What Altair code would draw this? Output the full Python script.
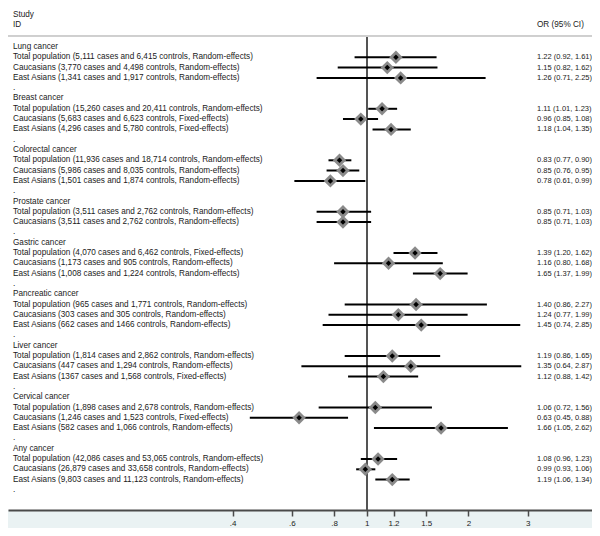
import altair as alt
import pandas as pd

# ---------------- data ----------------
group_names = ["Lung cancer", "Breast cancer", "Colorectal cancer", "Prostate cancer",
               "Gastric cancer", "Pancreatic cancer", "Liver cancer", "Cervical cancer",
               "Any cancer"]

subgroup_labels = [
    ["Total population (5,111 cases and 6,415 controls, Random-effects)",
     "Caucasians (3,770 cases and 4,498 controls, Random-effects)",
     "East Asians (1,341 cases and 1,917 controls, Random-effects)"],
    ["Total population (15,260 cases and 20,411 controls, Random-effects)",
     "Caucasians (5,683 cases and 6,623 controls, Fixed-effects)",
     "East Asians (4,296 cases and 5,780 controls, Fixed-effects)"],
    ["Total population (11,936 cases and 18,714 controls, Random-effects)",
     "Caucasians (5,986 cases and 8,035 controls, Random-effects)",
     "East Asians (1,501 cases and 1,874 controls, Random-effects)"],
    ["Total population (3,511 cases and 2,762 controls, Random-effects)",
     "Caucasians (3,511 cases and 2,762 controls, Random-effects)"],
    ["Total population (4,070 cases and 6,462 controls, Fixed-effects)",
     "Caucasians (1,173 cases and 905 controls, Random-effects)",
     "East Asians (1,008 cases and 1,224 controls, Random-effects)"],
    ["Total population (965 cases and 1,771 controls, Random-effects)",
     "Caucasians (303 cases and 305 controls, Random-effects)",
     "East Asians (662 cases and 1466 controls, Random-effects)"],
    ["Total population (1,814 cases and 2,862 controls, Random-effects)",
     "Caucasians (447 cases and 1,294 controls, Random-effects)",
     "East Asians (1367 cases and 1,568 controls, Fixed-effects)"],
    ["Total population (1,898 cases and 2,678 controls, Random-effects)",
     "Caucasians (1,246 cases and 1,523 controls, Fixed-effects)",
     "East Asians (582 cases and 1,066 controls, Random-effects)"],
    ["Total population (42,086 cases and 53,065 controls, Random-effects)",
     "Caucasians (26,879 cases and 33,658 controls, Random-effects)",
     "East Asians (9,803 cases and 11,123 controls, Random-effects)"],
]

or_values = [[1.22, 1.15, 1.26], [1.11, 0.96, 1.18], [0.83, 0.85, 0.78], [0.85, 0.85],
             [1.39, 1.16, 1.65], [1.40, 1.24, 1.45], [1.19, 1.35, 1.12],
             [1.06, 0.63, 1.66], [1.08, 0.99, 1.19]]
ci_lower = [[0.92, 0.82, 0.71], [1.01, 0.85, 1.04], [0.77, 0.76, 0.61], [0.71, 0.71],
            [1.20, 0.80, 1.37], [0.86, 0.77, 0.74], [0.86, 0.64, 0.88],
            [0.72, 0.45, 1.05], [0.96, 0.93, 1.06]]
ci_upper = [[1.61, 1.62, 2.25], [1.23, 1.08, 1.35], [0.90, 0.95, 0.99], [1.03, 1.03],
            [1.62, 1.68, 1.99], [2.27, 1.99, 2.85], [1.65, 2.87, 1.42],
            [1.56, 0.88, 2.62], [1.23, 1.06, 1.34]]

tick_values = [0.4, 0.6, 0.8, 1, 1.2, 1.5, 2, 3]
tick_labels = [".4", ".6", ".8", "1", "1.2", "1.5", "2", "3"]

# ---------------- build tables ----------------
text_rows, est_rows = [], []
r = 1
for g, name in enumerate(group_names):
    text_rows.append({"row": r, "label": name})
    r += 1
    for i, lab in enumerate(subgroup_labels[g]):
        o, lo, hi = or_values[g][i], ci_lower[g][i], ci_upper[g][i]
        text_rows.append({"row": r, "label": lab})
        est_rows.append({"row": r, "or": o, "lo": lo, "hi": hi,
                         "ortext": f"{o:.2f} ({lo:.2f}, {hi:.2f})"})
        r += 1
    text_rows.append({"row": r, "label": "."})
    r += 1

text_df = pd.DataFrame(text_rows)
est_df = pd.DataFrame(est_rows)

W, H = 584, 502
FONT = "Liberation Sans"

xscale = alt.Scale(type="log", domain=[0.0864, 4.651], nice=False, clamp=False)
yscale = alt.Scale(domain=[-2.786, 45.95], reverse=True, nice=False, zero=False)

label_expr = " : ".join(f"datum.value == {v} ? '{t}'" for v, t in zip(tick_values, tick_labels)) + " : ''"

x_axis = alt.Axis(values=tick_values, labelExpr=label_expr, title=None, grid=False,
                  domainColor="#4a4a4a", domainWidth=2, tickColor="#4a4a4a", tickWidth=1.5,
                  tickSize=6, labelPadding=3, labelFontSize=8, labelColor="#222",
                  labelFont=FONT)

base_est = alt.Chart(est_df)

ci = base_est.mark_rule(color="black", strokeWidth=2).encode(
    x=alt.X("lo:Q", scale=xscale, axis=x_axis),
    x2="hi:Q",
    y=alt.Y("row:Q", scale=yscale, axis=None),
)

box = base_est.mark_point(shape="diamond", filled=True, color="#8a8a8a", opacity=1, size=180).encode(
    x=alt.X("or:Q", scale=xscale),
    y=alt.Y("row:Q", scale=yscale),
)

dot = base_est.mark_point(shape="diamond", filled=True, color="black", opacity=1, size=30).encode(
    x=alt.X("or:Q", scale=xscale),
    y=alt.Y("row:Q", scale=yscale),
)

null_line = alt.Chart(est_df).mark_rule(color="#555555", strokeWidth=1.5).encode(
    x=alt.datum(1, scale=xscale),
    y=alt.value(29),
    y2=alt.value(H),
)

header_line = alt.Chart(est_df).mark_rule(color="#cfcfcf", strokeWidth=1).encode(
    x=alt.value(0), x2=alt.value(W), y=alt.value(28)
)

left_text = alt.Chart(text_df).mark_text(align="left", baseline="middle", fontSize=8.2,
                                         font=FONT, color="#1a1a1a").encode(
    x=alt.value(5),
    y=alt.Y("row:Q", scale=yscale),
    text="label:N",
)

right_text = base_est.mark_text(align="left", baseline="middle", fontSize=7.5,
                                font=FONT, color="#1a1a1a").encode(
    x=alt.value(529),
    y=alt.Y("row:Q", scale=yscale),
    text="ortext:N",
)

header_df = pd.DataFrame({"t": ["Study", "ID", "OR (95% CI)"],
                          "px": [5, 5, 529], "py": [7, 17, 17]})
header = alt.Chart(header_df).mark_text(align="left", baseline="middle", fontSize=8.2,
                                        font=FONT, color="#1a1a1a").encode(
    x=alt.X("px:Q", scale=None),
    y=alt.Y("py:Q", scale=None),
    text="t:N",
)

chart = alt.layer(header_line, null_line, ci, box, dot, left_text, right_text, header).properties(
    width=W, height=H,
    autosize=alt.AutoSizeParams(type="none"),
    padding={"left": 0, "top": 0, "right": 0, "bottom": 18},
    background="#eaf2f3",
).configure_view(fill="white", stroke=None)

chart.save("out.html", embed_options={"renderer": "svg", "actions": False})
